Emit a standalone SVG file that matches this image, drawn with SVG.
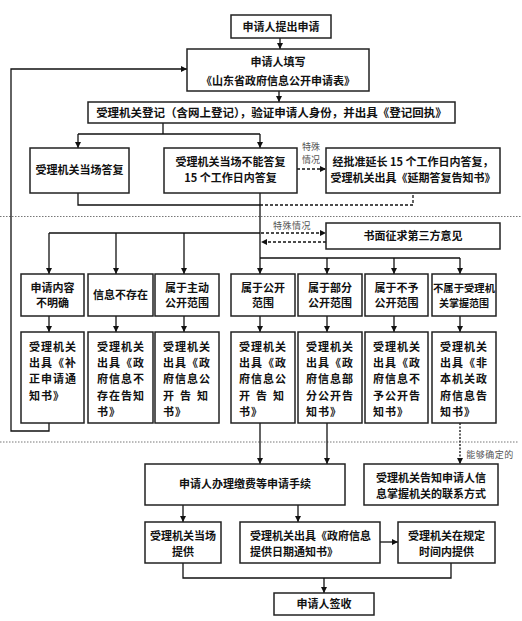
<svg xmlns="http://www.w3.org/2000/svg" width="522" height="621" viewBox="0 0 522 621">
<defs>
<marker id="ah" viewBox="0 0 10 10" refX="10" refY="5" markerWidth="7" markerHeight="6" orient="auto" markerUnits="userSpaceOnUse"><path d="M0,0 L10,5 L0,10 z" fill="#111"/></marker>
<style>
.box{fill:#fff;stroke:#222;stroke-width:1.5}
.t{font-family:"Noto Sans CJK SC","Noto Sans CJK JP",sans-serif;font-size:11px;font-weight:bold;fill:#111;text-anchor:middle}
.tl{font-family:"Noto Sans CJK SC","Noto Sans CJK JP",sans-serif;font-size:11px;font-weight:bold;fill:#111;letter-spacing:1px}
.lab{font-family:"Noto Sans CJK SC","Noto Sans CJK JP",sans-serif;font-size:9px;fill:#555;text-anchor:middle}
.ln{stroke:#111;stroke-width:1.3;fill:none}
.da{stroke-dasharray:3,2}
.dt{stroke-dasharray:2,1.5}
.sep{stroke:#777;stroke-width:1;stroke-dasharray:1.5,1.5;fill:none}
</style>
</defs>
<rect width="522" height="621" fill="#fff"/>
<g id="separators">
<line class="sep" x1="0" y1="216.5" x2="522" y2="216.5"/>
<line class="sep" x1="0" y1="442" x2="518" y2="442"/>
</g>
<g id="connectors">
<line class="ln" x1="280" y1="38" x2="280" y2="49" marker-end="url(#ah)"/>
<line class="ln" x1="279" y1="91" x2="279" y2="102" marker-end="url(#ah)"/>
<polyline class="ln" points="163,123 163,134"/>
<line class="ln" x1="78" y1="134" x2="260" y2="134"/>
<line class="ln" x1="78" y1="134" x2="78" y2="148" marker-end="url(#ah)"/>
<line class="ln" x1="260" y1="134" x2="260" y2="148" marker-end="url(#ah)"/>
<line class="ln da" x1="297" y1="169" x2="326" y2="169" marker-end="url(#ah)"/>
<polyline class="ln" points="78,193 78,205 260,205"/>
<polyline class="ln da" points="260,205 413,205 413,193"/>
<line class="ln" x1="260" y1="193" x2="260" y2="274" marker-end="url(#ah)"/>
<line class="ln" x1="49" y1="233" x2="260" y2="233"/>
<line class="ln" x1="49" y1="233" x2="49" y2="274" marker-end="url(#ah)"/>
<line class="ln" x1="116" y1="233" x2="116" y2="274" marker-end="url(#ah)"/>
<line class="ln" x1="184" y1="233" x2="184" y2="274" marker-end="url(#ah)"/>
<line class="ln da" x1="261" y1="233" x2="326" y2="233" marker-end="url(#ah)"/>
<line class="ln da" x1="326" y1="242" x2="261" y2="242" marker-end="url(#ah)"/>
<line class="ln" x1="260" y1="258" x2="460" y2="258"/>
<line class="ln" x1="327" y1="258" x2="327" y2="274" marker-end="url(#ah)"/>
<line class="ln" x1="394" y1="258" x2="394" y2="274" marker-end="url(#ah)"/>
<line class="ln" x1="460" y1="258" x2="460" y2="274" marker-end="url(#ah)"/>
<line class="ln" x1="49" y1="316" x2="49" y2="332" marker-end="url(#ah)"/>
<line class="ln" x1="116" y1="316" x2="116" y2="332" marker-end="url(#ah)"/>
<line class="ln" x1="184" y1="316" x2="184" y2="332" marker-end="url(#ah)"/>
<line class="ln" x1="260" y1="316" x2="260" y2="332" marker-end="url(#ah)"/>
<line class="ln" x1="327" y1="316" x2="327" y2="332" marker-end="url(#ah)"/>
<line class="ln" x1="394" y1="316" x2="394" y2="332" marker-end="url(#ah)"/>
<line class="ln" x1="460" y1="316" x2="460" y2="332" marker-end="url(#ah)"/>
<polyline class="ln" points="49,423 49,431 11,431 11,69 187,69" marker-end="url(#ah)"/>
<line class="ln" x1="260" y1="423" x2="260" y2="464" marker-end="url(#ah)"/>
<line class="ln" x1="327" y1="423" x2="327" y2="464" marker-end="url(#ah)"/>
<line class="ln dt" x1="460" y1="423" x2="460" y2="464" marker-end="url(#ah)"/>
<line class="ln" x1="183" y1="505" x2="183" y2="522" marker-end="url(#ah)"/>
<line class="ln" x1="298" y1="505" x2="298" y2="522" marker-end="url(#ah)"/>
<line class="ln" x1="380" y1="542" x2="398" y2="542" marker-end="url(#ah)"/>
<polyline class="ln" points="183,563 183,578 451,578 451,563"/>
<line class="ln" x1="324" y1="578" x2="324" y2="593" marker-end="url(#ah)"/>
<text class="lab" x="311" y="150">特殊</text>
<text class="lab" x="311" y="163">情况</text>
<text class="lab" x="292" y="229" letter-spacing="0.5">特殊情况</text>
<text class="lab" x="490" y="458" letter-spacing="0.5">能够确定的</text>
</g>
<g id="n1"><rect class="box" x="231" y="15" width="100" height="23"/><text class="t" x="281" y="30.5">申请人提出申请</text></g>
<g id="n2"><rect class="box" x="187" y="49" width="182" height="42"/><text class="t" x="278" y="66">申请人填写</text><text class="t" x="278" y="85">《山东省政府信息公开申请表》</text></g>
<g id="n3"><rect class="box" x="88" y="102" width="367" height="21"/><text class="t" x="271.5" y="116.5" style="font-size:11.5px">受理机关登记（含网上登记），验证申请人身份，并出具《登记回执》</text></g>
<g id="n4"><rect class="box" x="30" y="148" width="99" height="45"/><text class="t" x="79.5" y="174">受理机关当场答复</text></g>
<g id="n5"><rect class="box" x="164" y="148" width="133" height="45"/><text class="t" x="230.5" y="166">受理机关当场不能答复</text><text class="t" x="230.5" y="182">15 个工作日内答复</text></g>
<g id="n6"><rect class="box" x="326" y="148" width="174" height="45"/><text class="t" x="413" y="166">经批准延长 15 个工作日内答复，</text><text class="t" x="413" y="182">受理机关出具《延期答复告知书》</text></g>
<g id="n7"><rect class="box" x="326" y="223" width="174" height="26"/><text class="t" x="413" y="240">书面征求第三方意见</text></g>
<g id="r1a"><rect class="box" x="21" y="274" width="63" height="42"/><text class="t" x="52.5" y="292">申请内容</text><text class="t" x="52.5" y="307">不明确</text></g>
<g id="r1b"><rect class="box" x="88" y="274" width="65" height="42"/><text class="t" x="120.5" y="299">信息不存在</text></g>
<g id="r1c"><rect class="box" x="155" y="274" width="64" height="42"/><text class="t" x="187" y="292">属于主动</text><text class="t" x="187" y="307">公开范围</text></g>
<g id="r1d"><rect class="box" x="231" y="274" width="64" height="42"/><text class="t" x="263" y="292">属于公开</text><text class="t" x="263" y="307">范围</text></g>
<g id="r1e"><rect class="box" x="298" y="274" width="64" height="42"/><text class="t" x="330" y="292">属于部分</text><text class="t" x="330" y="307">公开范围</text></g>
<g id="r1f"><rect class="box" x="365" y="274" width="63" height="42"/><text class="t" x="396.5" y="292">属于不予</text><text class="t" x="396.5" y="307">公开范围</text></g>
<g id="r1g"><rect class="box" x="432" y="274" width="64" height="42"/><text class="t" x="464" y="292" style="font-size:10px" textLength="62" lengthAdjust="spacingAndGlyphs">不属于受理机</text><text class="t" x="464" y="307" style="font-size:10px">关掌握范围</text></g>
<g id="r2a"><rect class="box" x="21" y="332" width="63" height="91"/><text class="tl" x="29" y="351">受理机关</text><text class="tl" x="29" y="367">出具《补</text><text class="tl" x="29" y="383">正申请通</text><text class="tl" x="29" y="400">知书》</text></g>
<g id="r2b"><rect class="box" x="88" y="332" width="65" height="91"/><text class="tl" x="97" y="351">受理机关</text><text class="tl" x="97" y="367">出具《政</text><text class="tl" x="97" y="383">府信息不</text><text class="tl" x="97" y="400">存在告知</text><text class="tl" x="97" y="416">书》</text></g>
<g id="r2c"><rect class="box" x="155" y="332" width="64" height="91"/><text class="tl" x="163" y="351">受理机关</text><text class="tl" x="163" y="367">出具《政</text><text class="tl" x="163" y="383">府信息公</text><text class="tl" x="163" y="400" textLength="46">开 告 知</text><text class="tl" x="163" y="416">书》</text></g>
<g id="r2d"><rect class="box" x="231" y="332" width="64" height="91"/><text class="tl" x="239" y="351">受理机关</text><text class="tl" x="239" y="367">出具《政</text><text class="tl" x="239" y="383">府信息公</text><text class="tl" x="239" y="400" textLength="46">开 告 知</text><text class="tl" x="239" y="416">书》</text></g>
<g id="r2e"><rect class="box" x="298" y="332" width="64" height="91"/><text class="tl" x="306" y="351">受理机关</text><text class="tl" x="306" y="367">出具《政</text><text class="tl" x="306" y="383">府信息部</text><text class="tl" x="306" y="400">分公开告</text><text class="tl" x="306" y="416">知书》</text></g>
<g id="r2f"><rect class="box" x="365" y="332" width="63" height="91"/><text class="tl" x="373" y="351">受理机关</text><text class="tl" x="373" y="367">出具《政</text><text class="tl" x="373" y="383">府信息不</text><text class="tl" x="373" y="400">予公开告</text><text class="tl" x="373" y="416">知书》</text></g>
<g id="r2g"><rect class="box" x="432" y="332" width="64" height="91"/><text class="tl" x="440" y="351">受理机关</text><text class="tl" x="440" y="367">出具《非</text><text class="tl" x="440" y="383">本机关政</text><text class="tl" x="440" y="400">府信息告</text><text class="tl" x="440" y="416">知书》</text></g>
<g id="n8"><rect class="box" x="145" y="464" width="200" height="41"/><text class="t" x="245" y="488">申请人办理缴费等申请手续</text></g>
<g id="n9"><rect class="box" x="364" y="464" width="134" height="41"/><text class="t" x="431" y="482">受理机关告知申请人信</text><text class="t" x="431" y="498">息掌握机关的联系方式</text></g>
<g id="n10"><rect class="box" x="145" y="522" width="76" height="41"/><text class="t" x="183" y="540">受理机关当场</text><text class="t" x="183" y="556">提供</text></g>
<g id="n11"><rect class="box" x="240" y="522" width="140" height="41"/><text class="t" x="250" y="540" style="text-anchor:start">受理机关出具《政府信息</text><text class="t" x="250" y="556" style="text-anchor:start">提供日期通知书》</text></g>
<g id="n12"><rect class="box" x="398" y="522" width="97" height="41"/><text class="t" x="446.5" y="540">受理机关在规定</text><text class="t" x="446.5" y="556">时间内提供</text></g>
<g id="n13"><rect class="box" x="274" y="593" width="100" height="22"/><text class="t" x="324" y="608">申请人签收</text></g>
</svg>
